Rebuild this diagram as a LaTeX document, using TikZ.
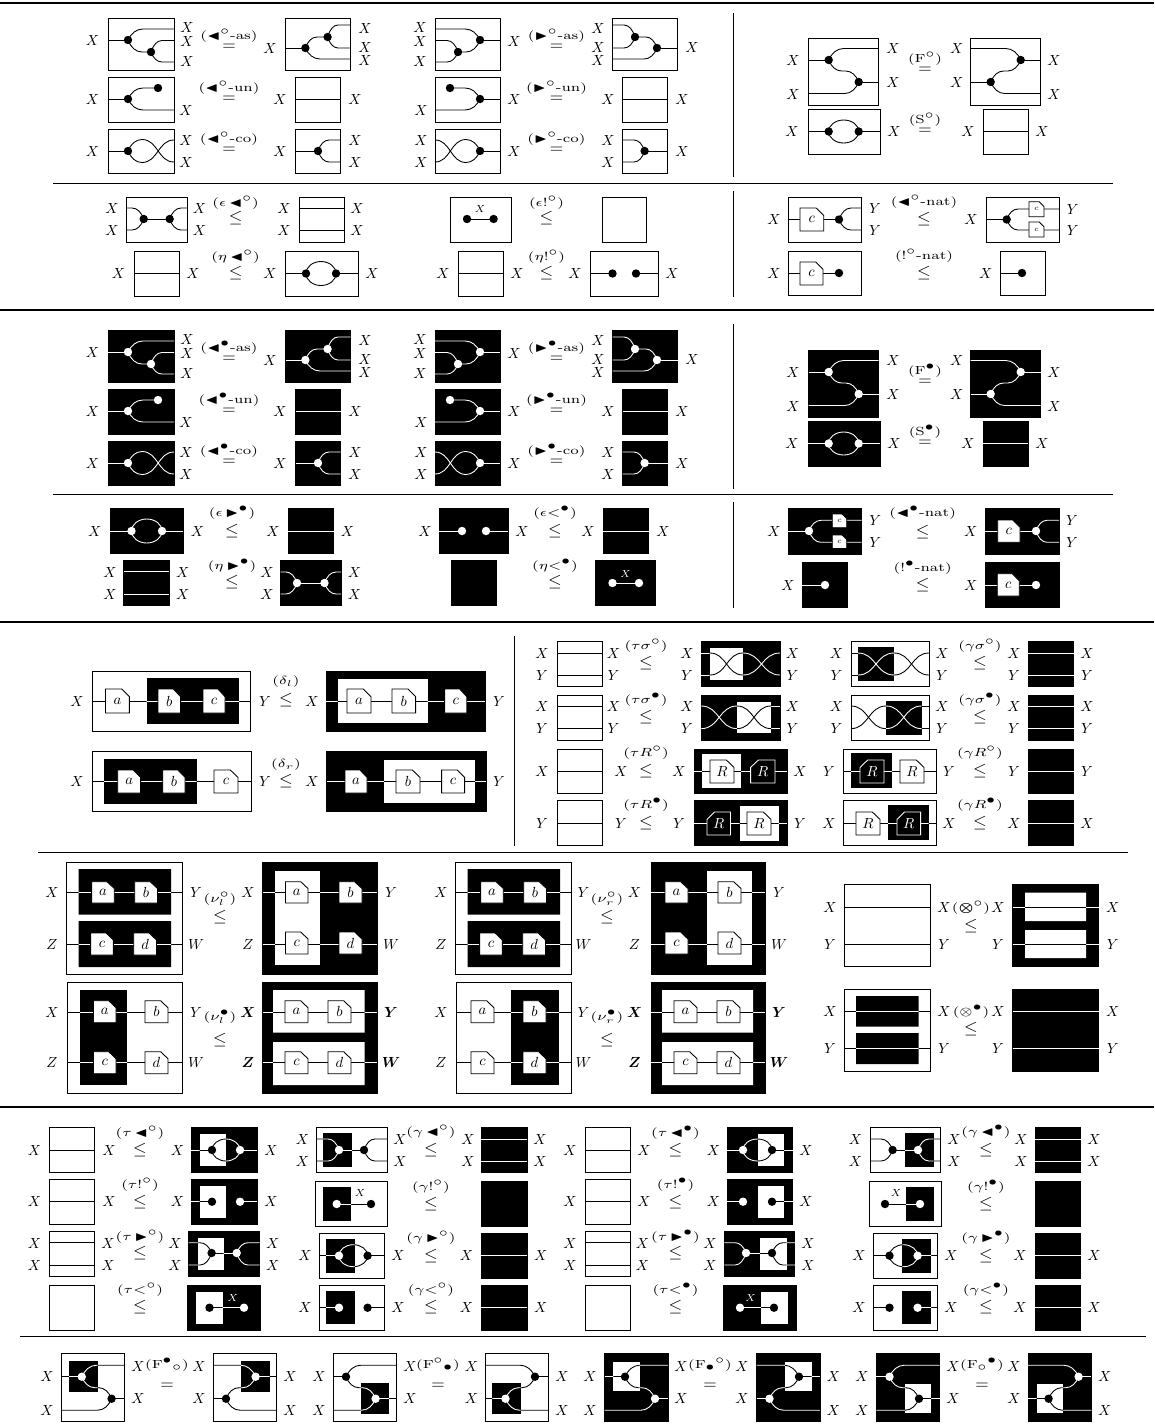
\documentclass[tikz,border=0pt]{standalone}
\usepackage{amsmath,amssymb}
\usepackage{graphicx}
\usepackage{tikz}
\usetikzlibrary{calc}
\colorlet{paper}{white}
\colorlet{ink}{black}
\tikzset{
  wire/.style={draw=ink,line width=0.6pt},
  panelbox/.style={draw=black,fill=paper,line width=0.6pt},
  tagwhite/.style={draw=black,fill=white,line width=0.6pt},
  tagblack/.style={draw=white,fill=black,line width=0.6pt},
  labelnode/.style={inner sep=0pt,text=black},
  thickrule/.style={draw=black,line width=1pt},
  thinrule/.style={draw=black,line width=0.6pt}
}
\newcount\labno
\newcommand{\wmk}{{\scriptstyle\circ}}
\newcommand{\bmk}{{\scriptstyle\bullet}}
\newcommand{\trl}{\mathord{\blacktriangleleft}}
\newcommand{\trr}{\mathord{\blacktriangleright}}
\newcommand{\lab}[3]{\global\advance\labno by 1 \node[labelnode] (lab\the\labno) at (#1,#2) {$#3$};}
\newcommand{\labs}[3]{\foreach \yy in {#2} {\lab{#1}{\yy}{#3}}}
\newcommand{\smlab}[3]{\global\advance\labno by 1 \node[labelnode,text=#3] (lab\the\labno) at (#1,#2) {$\scriptstyle X$};}
\newcommand{\opz}[5]{\global\advance\labno by 1
  \node[labelnode] (op\the\labno) at (#1,#2) {\scalebox{1.45}[1.15]{$\scriptstyle #5$}};
  \node[labelnode,font=\large] (rel\the\labno) at (#1,#3) {$#4$};}
\newcommand{\wireh}[3]{\draw[wire] (#1,#3) -- (#2,#3);}
\newcommand{\wirebr}[5]{\draw[wire] (#1,#2) .. controls ({#1+0.2*((#3)-(#1))},{#2+0.6*((#4)-(#2))}) and ({#3-0.45*((#3)-(#1))},#4) .. (#3,#4) -- (#5,#4);}
\newcommand{\wiresw}[4]{\draw[wire] (#1,#2) .. controls ({(#1+#3)/2},#2) and ({(#1+#3)/2},#4) .. (#3,#4);}
\newcommand{\wirelp}[6]{\draw[wire] (#1,#2) .. controls ({#1+0.2*((#3)-(#1))},{#2+0.6*((#4)-(#2))}) and ({#3-0.45*((#3)-(#1))},#4) .. (#3,#4) .. controls ({(#3+#5)/2},#4) and ({(#3+#5)/2},#6) .. (#5,#6);}
\newcommand{\wirelo}[4]{\draw[wire] ({(#1+#2)/2},#3) ellipse [x radius={(#2-#1)/2},y radius=#4];}
\newcommand{\spot}[2]{\fill[ink] (#1,#2) circle [radius=4.2];}
\newcommand{\tagw}[5]{\draw[tagwhite] (#1,#3) -- (#2-0.32*#2+0.32*#1,#3) -- (#2,#3+0.32*#4-0.32*#3) -- (#2,#4) -- (#1,#4) -- cycle;
  \node[labelnode,text=black] (tag\the\labno) at ({(#1+#2)/2},{(#3+#4)/2}) {$#5$};}
\newcommand{\tagb}[5]{\draw[tagblack] (#2,#3) -- (#1+0.32*#2-0.32*#1,#3) -- (#1,#3+0.32*#4-0.32*#3) -- (#1,#4) -- (#2,#4) -- cycle;
  \node[labelnode,text=white] (tag\the\labno) at ({(#1+#2)/2},{(#3+#4)/2}) {$#5$};}
\newcommand{\panel}[3]{\begin{scope}\colorlet{paper}{#1}\colorlet{ink}{-#1}\draw[panelbox] #2;#3\end{scope}}
\newcommand{\panelin}[4]{\begin{scope}\colorlet{paper}{#1}\colorlet{ink}{-#1}\draw[panelbox] #2;#4
  \colorlet{paper}{-#1}\colorlet{ink}{#1}\fill[paper] #3;
  \begin{scope}\clip #3;#4\end{scope}\end{scope}}
\newcommand{\frobl}[5]{\wireh{#1}{#3}{#5}\wireh{#4}{#2}{#5+22}
  \wirebr{#3}{#5}{#3+15}{#5-11.5}{#2}\wirebr{#3}{#5}{#3+13}{#5+11}{#3+17}
  \wirebr{#4}{#5+22}{#4-13}{#5+11}{#4-13}\wirebr{#4}{#5+22}{#4-14}{#5+33.5}{#1}
  \spot{#3}{#5}\spot{#4}{#5+22}}
\newcommand{\frobr}[5]{\wireh{#3}{#2}{#5}\wireh{#1}{#4}{#5+22}
  \wirebr{#3}{#5}{#3-15}{#5-11.5}{#1}\wirebr{#3}{#5}{#3-13}{#5+11}{#3-17}
  \wirebr{#4}{#5+22}{#4+13}{#5+11}{#4+13}\wirebr{#4}{#5+22}{#4+14}{#5+33.5}{#2}
  \spot{#3}{#5}\spot{#4}{#5+22}}
\newcommand{\secA}[2]{
\panel{#1}{(108,18) rectangle (174,70)}{\wireh{108}{128}{40}\wirebr{128}{40}{143}{29}{174}\wirebr{128}{40}{142}{52}{151}
  \wirebr{151}{52}{162}{40.5}{174}\wirebr{151}{52}{162}{62}{174}\spot{128}{40}\spot{151}{52}}
\panel{#1}{(285.5,18) rectangle (350.5,70)}{\wireh{285.5}{305.4}{48}\wirebr{305.4}{48}{317}{37}{327.6}\wirebr{305.4}{48}{320}{59}{350.5}
  \wirebr{327.6}{37}{338}{25}{350.5}\wirebr{327.6}{37}{338}{48}{350.5}\spot{305.4}{48}\spot{327.6}{37}}
\panel{#1}{(435,18) rectangle (500,70)}{\wireh{480}{500}{40}\wirebr{480}{40}{465}{29}{435}\wirebr{480}{40}{466}{52}{458}
  \wirebr{458}{52}{447}{40.5}{435}\wirebr{458}{52}{447}{62}{435}\spot{480}{40}\spot{458}{52}}
\panel{#1}{(612.5,18) rectangle (677.5,70)}{\wireh{657}{677.5}{48}\wirebr{657}{48}{646}{37}{635}\wirebr{657}{48}{644}{59}{612.5}
  \wirebr{635}{37}{624}{25}{612.5}\wirebr{635}{37}{624}{48}{612.5}\spot{657}{48}\spot{635}{37}}
\panel{#1}{(108,77) rectangle (174,122)}{\wireh{108}{128}{99}\wirebr{128}{99}{143}{88}{158}\wirebr{128}{99}{143}{110}{174}\spot{128}{99}\spot{158}{88}}
\panel{#1}{(295.5,77) rectangle (340.5,122)}{\wireh{295.5}{340.5}{99}}
\panel{#1}{(435,77) rectangle (500,122)}{\wireh{480}{500}{99}\wirebr{480}{99}{465}{88}{450}\wirebr{480}{99}{465}{110}{435}\spot{480}{99}\spot{450}{88}}
\panel{#1}{(622.5,77) rectangle (667.5,122)}{\wireh{622.5}{667.5}{99}}
\panel{#1}{(108,129) rectangle (174,173)}{\wireh{108}{128}{151}\wirelp{128}{151}{142}{139.5}{174}{162}\wirelp{128}{151}{142}{162.5}{174}{140}\spot{128}{151}}
\panel{#1}{(295.5,129) rectangle (340.5,173)}{\wireh{295.5}{318}{151}\wirebr{318}{151}{329}{140}{340.5}\wirebr{318}{151}{329}{162}{340.5}\spot{318}{151}}
\panel{#1}{(435,129) rectangle (500,173)}{\wireh{480}{500}{151}\wirelp{480}{151}{466}{139.5}{435}{162}\wirelp{480}{151}{466}{162.5}{435}{140}\spot{480}{151}}
\panel{#1}{(622.5,129) rectangle (667.5,173)}{\wireh{644.6}{667.5}{151}\wirebr{644.6}{151}{634}{140}{622.5}\wirebr{644.6}{151}{634}{162}{622.5}\spot{644.6}{151}}
\panel{#1}{(808.7,38) rectangle (878.7,105)}{\frobl{808.7}{878.7}{828.7}{858.7}{60}}
\panel{#1}{(970.7,38) rectangle (1040.7,105)}{\frobr{970.7}{1040.7}{1020.7}{990.7}{60}}
\panel{#1}{(808,109) rectangle (880,154)}{\wireh{808}{828.7}{131.5}\wireh{858.7}{880}{131.5}\wirelo{828.7}{858.7}{131.5}{11.5}\spot{828.7}{131.5}\spot{858.7}{131.5}}
\panel{#1}{(983,109) rectangle (1028,154)}{\wireh{983}{1028}{131.5}}
\lab{92.5}{40}{X}\labs{187}{27,41,61}{X}\lab{270}{48}{X}\labs{365}{28,47,60}{X}
\labs{420}{27,41,61}{X}\lab{514}{41}{X}\labs{598}{28,47,60}{X}\lab{692}{47}{X}
\lab{92.5}{99}{X}\lab{186}{110}{X}\lab{280}{99}{X}\lab{355}{99}{X}\lab{421}{110}{X}\lab{514}{99}{X}\lab{608}{99}{X}\lab{682}{99}{X}
\lab{92.5}{151}{X}\labs{186}{140,162}{X}\lab{280}{151}{X}\labs{355}{140,162}{X}\labs{421}{140,162}{X}\lab{514}{151}{X}\labs{608}{140,162}{X}\lab{682}{151}{X}
\labs{793}{60,94}{X}\labs{893}{48,82}{X}\labs{956.7}{48,82}{X}\labs{1054}{60,94}{X}
\lab{792}{131.5}{X}\lab{894}{131.5}{X}\lab{968}{131.5}{X}\lab{1042}{131.5}{X}
\opz{229}{36}{47}{=}{(\trl^{#2}\text{-as})}
\opz{556.5}{36}{47}{=}{(\trr^{#2}\text{-as})}
\opz{229}{88}{99}{=}{(\trl^{#2}\text{-un})}
\opz{556.5}{88}{99}{=}{(\trr^{#2}\text{-un})}
\opz{229}{139}{150}{=}{(\trl^{#2}\text{-co})}
\opz{556.5}{139}{150}{=}{(\trr^{#2}\text{-co})}
\opz{925}{59}{70}{=}{(\mathrm{F}^{#2})}
\opz{925}{120}{131}{=}{(\mathrm{S}^{#2})}
}
\begin{document}
\begin{tikzpicture}[x=0.683pt,y=-0.683pt]
\useasboundingbox (0,0) rectangle (1154,1426);
\draw[thickrule] (0,3) -- (1154,3);
\draw[thinrule] (53,183) -- (1113,183);
\draw[thickrule] (0,310) -- (1154,310);
\draw[thinrule] (53,494) -- (1113,494);
\draw[thickrule] (0,622) -- (1154,622);
\draw[thinrule] (38,852) -- (1128,852);
\draw[thickrule] (0,1107) -- (1154,1107);
\draw[thinrule] (20,1336.7) -- (1146,1336.7);
\foreach \ya/\yb in {13/177,191/297,324/489,502/608} {
  \draw[thinrule] (733.5,\ya) -- (733.5,\yb);
}
\draw[thinrule] (514.5,636) -- (514.5,846);
\secA{white}{\wmk}
\begin{scope}[shift={(0,312)}]
\secA{black}{\bmk}
\end{scope}
\panel{white}{(126,197) rectangle (187,242)}{\wireh{143.7}{169.7}{219}\wirebr{143.7}{219}{132}{208}{126}\wirebr{143.7}{219}{132}{230}{126}
  \wirebr{169.7}{219}{181}{208}{187}\wirebr{169.7}{219}{181}{230}{187}\spot{143.7}{219}\spot{169.7}{219}}
\panel{white}{(299,197) rectangle (344,242)}{\wireh{299}{344}{208}\wireh{299}{344}{230}}
\panel{white}{(450,197) rectangle (511,242)}{\wireh{467}{493.6}{219}\spot{467}{219}\spot{493.6}{219}}
\smlab{480}{209}{black}
\panel{white}{(602,197) rectangle (646.7,242)}{}
\panel{white}{(134,251) rectangle (179,296)}{\wireh{134}{179}{273.5}}
\panel{white}{(285.5,251) rectangle (358,296)}{\wireh{285.5}{306}{273.5}\wireh{336}{358}{273.5}\wirelo{306}{336}{273.5}{12}\spot{306}{273.5}\spot{336}{273.5}}
\panel{white}{(458,251) rectangle (503,296)}{\wireh{458}{503}{273.5}}
\panel{white}{(590,251) rectangle (658.4,296)}{\wireh{590}{612.5}{273.5}\wireh{636}{658.4}{273.5}\spot{612.5}{273.5}\spot{636}{273.5}}
\panel{white}{(788.7,197) rectangle (861.7,242)}{\wireh{788.7}{839}{219.5}\wirebr{839}{219.5}{851}{208}{861.7}\wirebr{839}{219.5}{851}{230}{861.7}\spot{839}{219.5}\tagw{800}{823.7}{208}{231}{c}}
\panel{white}{(986,197) rectangle (1059,242)}{\wireh{986}{1006.7}{219.5}\wirebr{1006.7}{219.5}{1018}{209}{1059}\wirebr{1006.7}{219.5}{1018}{230}{1059}\spot{1006.7}{219.5}
  \tagw{1029}{1044}{201.7}{216.7}{\scriptscriptstyle c}\tagw{1029}{1044}{222}{237}{\scriptscriptstyle c}}
\panel{white}{(788,251) rectangle (861,295)}{\wireh{788}{839}{273}\spot{839}{273}\tagw{800}{823}{262}{285}{c}}
\panel{white}{(1000,251) rectangle (1045,295)}{\wireh{1000}{1022}{273}\spot{1022}{273}}
\labs{112}{208,230}{X}\labs{199.6}{208,230}{X}\labs{284}{208,230}{X}\labs{357}{208,230}{X}
\lab{118.5}{273.5}{X}\lab{193}{273.5}{X}\lab{270}{273.5}{X}\lab{372}{273.5}{X}\lab{443}{273.5}{X}\lab{517}{273.5}{X}\lab{575}{273.5}{X}\lab{672}{273.5}{X}
\lab{774}{219}{X}\labs{875}{208,230}{Y}\lab{971}{219}{X}\labs{1072.7}{209,230}{Y}\lab{774}{273}{X}\lab{985.7}{273}{X}
\opz{235.6}{203}{218}{\leq}{(\epsilon\,\trl^{\wmk})}
\opz{546.5}{203}{218}{\leq}{(\epsilon!^{\wmk})}
\opz{235.6}{257}{273}{\leq}{(\eta\,\trl^{\wmk})}
\opz{546.5}{257}{273}{\leq}{(\eta!^{\wmk})}
\opz{924}{202}{219}{\leq}{(\trl^{\wmk}\text{-nat})}
\opz{924}{256}{273}{\leq}{(!^{\wmk}\text{-nat})}
\panel{black}{(110,508) rectangle (183,553.7)}{\wireh{110}{131.5}{531}\wireh{162}{183}{531}\wirelo{131.5}{162}{531}{12}\spot{131.5}{531}\spot{162}{531}}
\panel{black}{(288,508) rectangle (333.6,553.7)}{\wireh{288}{333.6}{531}}
\panel{black}{(439,508) rectangle (508.4,553.7)}{\wireh{439}{462}{531}\wireh{486}{508.4}{531}\spot{462}{531}\spot{486}{531}}
\panel{black}{(603,508) rectangle (648.5,553.7)}{\wireh{603}{648.5}{531}}
\panel{black}{(123.7,560) rectangle (169,605.7)}{\wireh{123.7}{169}{571.7}\wireh{123.7}{169}{594}}
\panel{black}{(280.7,560) rectangle (341,605.7)}{\wireh{297}{324.5}{583}\wirebr{297}{583}{286}{572}{280.7}\wirebr{297}{583}{286}{594}{280.7}
  \wirebr{324.5}{583}{336}{572}{341}\wirebr{324.5}{583}{336}{594}{341}\spot{297}{583}\spot{324.5}{583}}
\panel{black}{(451,560) rectangle (496.7,605.7)}{}
\panel{black}{(595.5,560) rectangle (655.8,605.7)}{\wireh{612.5}{639}{583}\spot{612.5}{583}\spot{639}{583}}
\smlab{625.5}{574}{white}
\panel{black}{(788,508) rectangle (861.7,554.3)}{\wireh{788}{809}{531}\wirebr{809}{531}{821}{520.3}{861.7}\wirebr{809}{531}{821}{542.3}{861.7}\spot{809}{531}
  \tagw{832.3}{846.7}{514}{527.7}{\scriptscriptstyle c}\tagw{832.3}{846.7}{535}{548.5}{\scriptscriptstyle c}}
\panel{black}{(985,508) rectangle (1059,554.3)}{\wireh{985}{1036}{531}\wirebr{1036}{531}{1047}{520.3}{1059}\wirebr{1036}{531}{1047}{542.3}{1059}\spot{1036}{531}\tagw{997.7}{1020}{520}{542.3}{c}}
\panel{black}{(802,562.3) rectangle (847.3,607.7)}{\wireh{802}{825}{585}\spot{825}{585}}
\panel{black}{(985,562.3) rectangle (1059,607.7)}{\wireh{985}{1036}{585}\spot{1036}{585}\tagw{997.3}{1019.3}{573.7}{596}{c}}
\lab{94.7}{531}{X}\lab{197.5}{531}{X}\lab{273}{531}{X}\lab{347.5}{531}{X}\lab{425}{531}{X}\lab{522}{531}{X}\lab{588}{531}{X}\lab{663}{531}{X}
\labs{110}{572,594}{X}\labs{182.7}{572,594}{X}\labs{267}{572,594}{X}\labs{354.5}{572,594}{X}
\lab{774}{531}{X}\labs{875.3}{520,542}{Y}\lab{970.7}{531}{X}\labs{1072}{520,542}{Y}\lab{788}{585}{X}\lab{970.7}{585}{X}
\opz{232}{513}{531}{\leq}{(\epsilon\,\trr^{\bmk})}
\opz{555}{513}{531}{\leq}{(\epsilon{<}^{\bmk})}
\opz{232}{565.7}{581.7}{\leq}{(\eta\,\trr^{\bmk})}
\opz{555}{565.7}{581.7}{\leq}{(\eta{<}^{\bmk})}
\opz{922.7}{513}{531.7}{\leq}{(\trl^{\bmk}\text{-nat})}
\opz{922.7}{567.7}{585}{\leq}{(!^{\bmk}\text{-nat})}
\panelin{white}{(92,671) rectangle (250.4,731)}{(146.7,678) rectangle (239,724)}{\wireh{92}{250.4}{701}\tagw{105.5}{129.4}{689}{713}{a}\tagw{158}{180.6}{689}{713}{b}\tagw{203}{225}{689}{713}{c}}
\panelin{black}{(326,671) rectangle (485.4,731)}{(337.5,679) rectangle (427.7,723)}{\wireh{326}{485.4}{701}\tagw{347}{371}{689}{713}{a}\tagw{392}{415.6}{689}{713}{b}\tagw{444.6}{466.8}{689}{713}{c}}
\panelin{white}{(92.5,751.7) rectangle (251,811)}{(104,759) rectangle (196.6,804)}{\wireh{92.5}{251}{781.7}\tagw{117.7}{140.6}{770}{793}{a}\tagw{162.8}{185}{770}{793}{b}\tagw{214}{238}{770}{793}{c}}
\panelin{black}{(326.7,751.7) rectangle (486,811)}{(384,760) rectangle (475,803)}{\wireh{326.7}{486}{781.7}\tagw{345}{367}{770}{793}{a}\tagw{396}{420}{770}{793}{b}\tagw{441.6}{464.6}{770}{793}{c}}
\lab{77}{701}{X}\lab{265}{701}{Y}\lab{312}{701}{X}\lab{499}{701}{Y}
\lab{77}{781.7}{X}\lab{265}{781.7}{Y}\lab{312}{781.7}{X}\lab{499}{781.7}{Y}
\opz{286}{682}{700}{\leq}{(\delta_l)}
\opz{286}{765}{781}{\leq}{(\delta_r)}
\panel{white}{(557,641.7) rectangle (602,686)}{\wireh{557}{602}{653}\wireh{557}{602}{675}}
\panelin{black}{(701.4,641.7) rectangle (780,686)}{(709.6,648) rectangle (743,680)}{\wireh{701.4}{710}{653}\wireh{701.4}{710}{675}\wiresw{710}{653}{743}{675}\wiresw{710}{675}{743}{653}\wiresw{743}{653}{780}{675}\wiresw{743}{675}{780}{653}}
\panelin{white}{(851,641.7) rectangle (929,686)}{(858,647) rectangle (894,681)}{\wireh{851}{858}{653}\wireh{851}{858}{675}\wiresw{858}{653}{894}{675}\wiresw{858}{675}{894}{653}\wiresw{894}{653}{929}{675}\wiresw{894}{675}{929}{653}}
\panel{black}{(1028,641.7) rectangle (1073.5,686)}{\wireh{1028}{1073.5}{653}\wireh{1028}{1073.5}{675}}
\panel{white}{(557,695) rectangle (602,740)}{\wireh{557}{602}{706}\wireh{557}{602}{728.6}}
\panelin{black}{(701.4,695) rectangle (780,740)}{(737,702) rectangle (771,733)}{\wiresw{701.4}{706}{737}{728.6}\wiresw{701.4}{728.6}{737}{706}\wiresw{737}{706}{771}{728.6}\wiresw{737}{728.6}{771}{706}\wireh{771}{780}{706}\wireh{771}{780}{728.6}}
\panelin{white}{(851,695) rectangle (929,740)}{(886,701) rectangle (921.5,735)}{\wiresw{851}{706}{886}{728.6}\wiresw{851}{728.6}{886}{706}\wiresw{886}{706}{921.5}{728.6}\wiresw{886}{728.6}{921.5}{706}\wireh{921.5}{929}{706}\wireh{921.5}{929}{728.6}}
\panel{black}{(1028,695) rectangle (1073.5,740)}{\wireh{1028}{1073.5}{706}\wireh{1028}{1073.5}{728.6}}
\panel{white}{(557,749) rectangle (602,793)}{\wireh{557}{602}{771}}
\panelin{black}{(694,749) rectangle (787,793)}{(702,754) rectangle (741,788)}{\wireh{694}{787}{771}\tagw{710}{734}{760}{783}{R}\tagb{750.6}{775}{760}{783}{R}}
\panelin{white}{(843.5,749) rectangle (936,793)}{(851,753) rectangle (892,788)}{\wireh{843.5}{936}{771}\tagb{860}{884}{760}{783}{R}\tagw{900}{924}{760}{783}{R}}
\panel{black}{(1028,749) rectangle (1073.5,793)}{\wireh{1028}{1073.5}{771}}
\panel{white}{(557,800.7) rectangle (602,845)}{\wireh{557}{602}{823}}
\panelin{black}{(694,800.7) rectangle (787,845)}{(739.6,806) rectangle (778.6,840.7)}{\wireh{694}{787}{823}\tagb{707}{730.5}{812}{835}{R}\tagw{747}{771}{812}{835}{R}}
\panelin{white}{(843.5,800.7) rectangle (936,845)}{(888,805) rectangle (928.5,840)}{\wireh{843.5}{936}{823}\tagw{856}{880}{812}{835}{R}\tagb{897}{920.6}{812}{835}{R}}
\panel{black}{(1028,800.7) rectangle (1073.5,845)}{\wireh{1028}{1073.5}{823}}
\lab{542}{653}{X}\lab{542}{675}{Y}\lab{613.5}{653}{X}\lab{613.5}{675}{Y}\lab{687}{653}{X}\lab{687}{675}{Y}\lab{792.5}{653}{X}\lab{792.5}{675}{Y}
\lab{836.5}{653}{X}\lab{836.5}{675}{Y}\lab{942}{653}{X}\lab{942}{675}{Y}\lab{1014}{653}{X}\lab{1014}{675}{Y}\lab{1087}{653}{X}\lab{1087}{675}{Y}
\lab{542}{706}{X}\lab{542}{728}{Y}\lab{613.5}{706}{X}\lab{613.5}{728}{Y}\lab{687}{706}{X}\lab{687}{728}{Y}\lab{792.5}{706}{X}\lab{792.5}{728}{Y}
\lab{836.5}{706}{X}\lab{836.5}{728}{Y}\lab{942}{706}{X}\lab{942}{728}{Y}\lab{1014}{706}{X}\lab{1014}{728}{Y}\lab{1087}{706}{X}\lab{1087}{728}{Y}
\lab{542}{771}{X}\lab{621}{771}{X}\lab{679}{771}{X}\lab{800}{771}{X}\lab{829}{771}{Y}\lab{949}{771}{Y}\lab{1014}{771}{Y}\lab{1087}{771}{Y}
\lab{542}{823}{Y}\lab{621}{823}{Y}\lab{679}{823}{Y}\lab{800}{823}{Y}\lab{829}{823}{X}\lab{949}{823}{X}\lab{1014}{823}{X}\lab{1087}{823}{X}
\opz{646}{646}{663}{\leq}{(\tau\sigma^{\wmk})}
\opz{980}{646}{663}{\leq}{(\gamma\sigma^{\wmk})}
\opz{646}{700}{717}{\leq}{(\tau\sigma^{\bmk})}
\opz{980}{700}{717}{\leq}{(\gamma\sigma^{\bmk})}
\opz{646}{753}{771}{\leq}{(\tau R^{\wmk})}
\opz{980}{753}{771}{\leq}{(\gamma R^{\wmk})}
\opz{646}{805}{823}{\leq}{(\tau R^{\bmk})}
\opz{980}{805}{823}{\leq}{(\gamma R^{\bmk})}
\panelin{white}{(66.8,862.7) rectangle (182,974)}{(78.5,869) rectangle (171,914.7) (78.5,921) rectangle (171,967)}{\wireh{66.8}{182}{892}\wireh{66.8}{182}{944}
  \tagw{91.6}{114.3}{881.7}{903}{a}\tagw{134.7}{157.5}{881.7}{903}{b}\tagw{90.6}{113.4}{933}{955}{c}\tagw{133.7}{156.5}{933}{955}{d}}
\panelin{black}{(262.7,862.7) rectangle (377,974)}{(275,871) rectangle (320,965)}{\wireh{262.7}{377}{892}\wireh{262.7}{377}{944}
  \tagw{285.5}{308}{881.7}{903}{a}\tagw{339}{362}{881.7}{903}{b}\tagw{285.5}{308}{932}{954}{c}\tagw{339}{362}{932}{954}{d}}
\panelin{white}{(455.6,862.7) rectangle (571,974)}{(467.5,869) rectangle (560,914.7) (467.5,921) rectangle (560,967)}{\wireh{455.6}{571}{892}\wireh{455.6}{571}{944}
  \tagw{480.6}{503.3}{881.7}{903}{a}\tagw{523.7}{546.5}{881.7}{903}{b}\tagw{479.6}{502.4}{933}{955}{c}\tagw{522.7}{545.5}{933}{955}{d}}
\panelin{black}{(651,862.7) rectangle (765,974)}{(707,871) rectangle (752,965)}{\wireh{651}{765}{892}\wireh{651}{765}{944}
  \tagw{665}{688}{881.7}{903}{a}\tagw{718}{741}{881.7}{903}{b}\tagw{665}{688}{932}{954}{c}\tagw{718}{741}{932}{954}{d}}
\panelin{white}{(67.8,982.7) rectangle (182.7,1093)}{(80,990) rectangle (127,1085)}{\wireh{67.8}{182.7}{1012}\wireh{67.8}{182.7}{1062.7}
  \tagw{93.5}{116}{1000.7}{1022.7}{a}\tagw{145}{168}{1000.7}{1022.7}{b}\tagw{93.5}{116}{1051.7}{1073.7}{c}\tagw{145}{168}{1051.7}{1073.7}{d}}
\panelin{black}{(262.7,982.7) rectangle (377,1093)}{(273,990) rectangle (364.5,1032.7) (273,1042) rectangle (364.5,1085)}{\wireh{262.7}{377}{1012}\wireh{262.7}{377}{1062.7}
  \tagw{285}{308}{1000.7}{1022.7}{a}\tagw{328}{351}{1000.7}{1022.7}{b}\tagw{285}{308}{1051.7}{1073.7}{c}\tagw{328}{351}{1051.7}{1073.7}{d}}
\panelin{white}{(456.6,982.7) rectangle (571,1093)}{(511,990) rectangle (559,1085)}{\wireh{456.6}{571}{1012}\wireh{456.6}{571}{1062.7}
  \tagw{471}{494}{1000.7}{1022.7}{a}\tagw{523}{546}{1000.7}{1022.7}{b}\tagw{471}{494}{1051.7}{1073.7}{c}\tagw{523}{546}{1051.7}{1073.7}{d}}
\panelin{black}{(651,982.7) rectangle (765,1093)}{(662,990) rectangle (753,1032.7) (662,1042) rectangle (753,1085)}{\wireh{651}{765}{1012}\wireh{651}{765}{1062.7}
  \tagw{674}{697}{1000.7}{1022.7}{a}\tagw{717}{740}{1000.7}{1022.7}{b}\tagw{674}{697}{1051.7}{1073.7}{c}\tagw{717}{740}{1051.7}{1073.7}{d}}
\panel{white}{(844.7,884) rectangle (930,966)}{\wireh{844.7}{930}{907}\wireh{844.7}{930}{944}}
\panelin{black}{(1012.7,884) rectangle (1098.7,966)}{(1025,892.7) rectangle (1086,921) (1025,930) rectangle (1086,958)}{\wireh{1012.7}{1098.7}{907}\wireh{1012.7}{1098.7}{944}}
\panelin{white}{(844.7,989) rectangle (930,1071)}{(856,996) rectangle (918.7,1026.7) (856,1033) rectangle (918.7,1064)}{\wireh{844.7}{930}{1011.7}\wireh{844.7}{930}{1048.7}}
\panel{black}{(1012.7,989) rectangle (1098.7,1071)}{\wireh{1012.7}{1098.7}{1011.7}\wireh{1012.7}{1098.7}{1048.7}}
\foreach \xa/\xb/\xc/\xd in {52/196/248/391,441/583.5/634.5/779} {
  \lab{\xa}{892}{X}\lab{\xa}{944}{Z}\lab{\xb}{892}{Y}\lab{\xb}{944}{W}\lab{\xc}{892}{X}\lab{\xc}{944}{Z}\lab{\xd}{892}{Y}\lab{\xd}{944}{W}
  \lab{\xa}{1012}{X}\lab{\xa}{1062.7}{Z}\lab{\xb}{1012}{Y}\lab{\xb}{1062.7}{W}
  \lab{\xc}{1012}{\boldsymbol{X}}\lab{\xc}{1062.7}{\boldsymbol{Z}}\lab{\xd}{1012}{\boldsymbol{Y}}\lab{\xd}{1062.7}{\boldsymbol{W}}
}
\lab{830}{907}{X}\lab{830}{944}{Y}\lab{944}{907}{X}\lab{944}{944}{Y}\lab{998}{907}{X}\lab{998}{944}{Y}\lab{1112.7}{907}{X}\lab{1112.7}{944}{Y}
\lab{830}{1011.7}{X}\lab{830}{1048.7}{Y}\lab{944}{1011.7}{X}\lab{944}{1048.7}{Y}\lab{998}{1011.7}{X}\lab{998}{1048.7}{Y}\lab{1112.7}{1011.7}{X}\lab{1112.7}{1048.7}{Y}
\opz{220}{899}{916.7}{\leq}{(\nu_l^{\wmk})}
\opz{607}{899}{916.7}{\leq}{(\nu_r^{\wmk})}
\opz{220}{1016.7}{1040}{\leq}{(\nu_l^{\bmk})}
\opz{607}{1016.7}{1040}{\leq}{(\nu_r^{\bmk})}
\opz{971}{908}{926}{\leq}{(\boldsymbol{\otimes}^{\wmk})}
\opz{971}{1011.7}{1029}{\leq}{(\otimes^{\bmk})}
\foreach \xa/\xb/\xc in {49.5/94.5/0,585/630/1} {
  \panel{white}{(\xa,1127.7) rectangle (\xb,1172)}{\wireh{\xa}{\xb}{1150}}
  \panel{white}{(\xa,1179.7) rectangle (\xb,1224.7)}{\wireh{\xa}{\xb}{1201.7}}
  \panel{white}{(\xa,1231.7) rectangle (\xb,1276)}{\wireh{\xa}{\xb}{1242.7}\wireh{\xa}{\xb}{1265}}
  \panel{white}{(\xa,1285) rectangle (\xb,1330)}{}
}
\panelin{black}{(191,1127.7) rectangle (257,1172)}{(199.6,1134) rectangle (226,1166)}{\wireh{191}{212}{1150}\wireh{240}{257}{1150}\wirelo{212}{240}{1150}{11}\spot{212}{1150}\spot{240}{1150}}
\panelin{white}{(316,1127.7) rectangle (387,1172)}{(323,1133) rectangle (352,1167)}{\wireh{339}{364}{1150}\wirebr{339}{1150}{328}{1139}{316}\wirebr{339}{1150}{328}{1161}{316}\wirebr{364}{1150}{375}{1139}{387}\wirebr{364}{1150}{375}{1161}{387}\spot{339}{1150}\spot{364}{1150}}
\panel{black}{(481,1127.7) rectangle (527,1172)}{\wireh{481}{527}{1139}\wireh{481}{527}{1161}}
\panelin{black}{(191,1179.7) rectangle (257,1224.7)}{(199.6,1186) rectangle (226,1217.7)}{\wireh{191}{212}{1201.7}\wireh{240}{257}{1201.7}\spot{212}{1201.7}\spot{240}{1201.7}}
\panelin{white}{(315.6,1181.7) rectangle (387.6,1226)}{(322.5,1187) rectangle (351,1220.7)}{\wireh{336.7}{371}{1204}\spot{336.7}{1204}\spot{371}{1204}}
\smlab{360}{1193}{black}
\panel{black}{(481,1181.7) rectangle (527,1226)}{}
\panelin{black}{(188.7,1231.7) rectangle (259.6,1276)}{(197.5,1237.7) rectangle (223.6,1269.7)}{\wireh{211.6}{236.7}{1253}\wirebr{211.6}{1253}{200}{1242.7}{188.7}\wirebr{211.6}{1253}{200}{1265}{188.7}\wirebr{236.7}{1253}{248}{1242.7}{259.6}\wirebr{236.7}{1253}{248}{1265}{259.6}\spot{211.6}{1253}\spot{236.7}{1253}}
\panelin{white}{(319,1233.7) rectangle (384,1278)}{(326,1239) rectangle (354.5,1272.7)}{\wireh{319}{339}{1255.7}\wireh{367.6}{384}{1255.7}\wirelo{339}{367.6}{1255.7}{11}\spot{339}{1255.7}\spot{367.6}{1255.7}}
\panel{black}{(481,1233.7) rectangle (527,1278)}{\wireh{481}{527}{1255.7}}
\panelin{black}{(187.6,1285) rectangle (260.7,1330)}{(196,1292) rectangle (222.5,1323.7)}{\wireh{209.5}{244}{1307.7}\spot{209.5}{1307.7}\spot{244}{1307.7}}
\smlab{232.7}{1297.7}{white}
\panelin{white}{(319,1285) rectangle (384,1330)}{(326,1291) rectangle (354.5,1324)}{\wireh{319}{339}{1307.7}\wireh{367.6}{384}{1307.7}\spot{339}{1307.7}\spot{367.6}{1307.7}}
\panel{black}{(481,1285) rectangle (527,1330)}{\wireh{481}{527}{1307.7}}
\panelin{black}{(727,1127.7) rectangle (792.6,1172)}{(757.7,1134) rectangle (784,1166)}{\wireh{727}{743}{1150}\wireh{772}{792.6}{1150}\wirelo{743}{772}{1150}{11}\spot{743}{1150}\spot{772}{1150}}
\panelin{white}{(870,1127.7) rectangle (940.7,1172)}{(905,1133) rectangle (933.5,1167)}{\wireh{892.6}{918}{1150}\wirebr{892.6}{1150}{881}{1139}{870}\wirebr{892.6}{1150}{881}{1161}{870}\wirebr{918}{1150}{929}{1139}{940.7}\wirebr{918}{1150}{929}{1161}{940.7}\spot{892.6}{1150}\spot{918}{1150}}
\panel{black}{(1035,1127.7) rectangle (1080.5,1172)}{\wireh{1035}{1080.5}{1139}\wireh{1035}{1080.5}{1161}}
\panelin{black}{(727,1179.7) rectangle (792.6,1224.7)}{(757.7,1186) rectangle (784,1217.7)}{\wireh{727}{743}{1201.7}\wireh{772}{792.6}{1201.7}\spot{743}{1201.7}\spot{772}{1201.7}}
\panelin{white}{(869.5,1181.7) rectangle (941.4,1226)}{(905.8,1187) rectangle (934,1220.7)}{\wireh{885}{920}{1204}\spot{885}{1204}\spot{920}{1204}}
\smlab{896}{1193}{black}
\panel{black}{(1035,1181.7) rectangle (1080.5,1226)}{}
\panelin{black}{(724.4,1231.7) rectangle (794.8,1276)}{(760,1237.7) rectangle (786.5,1269.7)}{\wireh{746}{772}{1253}\wirebr{746}{1253}{735}{1242.7}{724.4}\wirebr{746}{1253}{735}{1265}{724.4}\wirebr{772}{1253}{783}{1242.7}{794.8}\wirebr{772}{1253}{783}{1265}{794.8}\spot{746}{1253}\spot{772}{1253}}
\panelin{white}{(873,1233.7) rectangle (937.6,1278)}{(902.4,1239) rectangle (931,1272.7)}{\wireh{873}{889.5}{1255.7}\wireh{917.6}{937.6}{1255.7}\wirelo{889.5}{917.6}{1255.7}{11}\spot{889.5}{1255.7}\spot{917.6}{1255.7}}
\panel{black}{(1035,1233.7) rectangle (1080.5,1278)}{\wireh{1035}{1080.5}{1255.7}}
\panelin{black}{(723,1285) rectangle (796.4,1330)}{(761,1292) rectangle (787.6,1323.7)}{\wireh{740}{774}{1307.7}\spot{740}{1307.7}\spot{774}{1307.7}}
\smlab{750.5}{1297.7}{white}
\panelin{white}{(873,1285) rectangle (937.6,1330)}{(902.4,1291) rectangle (931,1324)}{\wireh{873}{889.5}{1307.7}\wireh{917.6}{937.6}{1307.7}\spot{889.5}{1307.7}\spot{917.6}{1307.7}}
\panel{black}{(1035,1285) rectangle (1080.5,1330)}{\wireh{1035}{1080.5}{1307.7}}
\lab{34.5}{1150}{X}\lab{109}{1150}{X}\lab{177.5}{1150}{X}\lab{271}{1150}{X}\labs{302.5}{1139,1161}{X}\labs{400}{1139,1161}{X}\labs{468}{1139,1161}{X}\labs{540}{1139,1161}{X}
\lab{34.5}{1201.7}{X}\lab{109}{1201.7}{X}\lab{177.5}{1201.7}{X}\lab{271}{1201.7}{X}
\labs{34.5}{1243,1265}{X}\labs{108}{1243,1265}{X}\labs{175}{1243,1265}{X}\labs{272.7}{1243,1265}{X}
\lab{305}{1255.7}{X}\lab{398}{1255.7}{X}\lab{466.5}{1255.7}{X}\lab{540.7}{1255.7}{X}
\lab{305}{1307.7}{X}\lab{398}{1307.7}{X}\lab{466.5}{1307.7}{X}\lab{540.7}{1307.7}{X}
\lab{570}{1150}{X}\lab{644}{1150}{X}\lab{713.4}{1150}{X}\lab{806}{1150}{X}\labs{855.5}{1139,1161}{X}\labs{954}{1139,1161}{X}\labs{1021}{1139,1161}{X}\labs{1094}{1139,1161}{X}
\lab{570}{1201.7}{X}\lab{644}{1201.7}{X}\lab{713.4}{1201.7}{X}\lab{806}{1201.7}{X}
\labs{570}{1243,1265}{X}\labs{642.6}{1243,1265}{X}\labs{710}{1243,1265}{X}\labs{808}{1243,1265}{X}
\lab{859}{1255.7}{X}\lab{951}{1255.7}{X}\lab{1020}{1255.7}{X}\lab{1094}{1255.7}{X}
\lab{859}{1307.7}{X}\lab{951}{1307.7}{X}\lab{1020}{1307.7}{X}\lab{1094}{1307.7}{X}
\opz{140}{1132.7}{1150}{\leq}{(\tau\,\trl^{\wmk})}
\opz{431}{1131.7}{1150}{\leq}{(\gamma\,\trl^{\wmk})}
\opz{675.5}{1132.7}{1150}{\leq}{(\tau\,\trl^{\bmk})}
\opz{986}{1131.7}{1150}{\leq}{(\gamma\,\trl^{\bmk})}
\opz{140}{1185}{1201.7}{\leq}{(\tau!^{\wmk})}
\opz{431}{1186.7}{1204}{\leq}{(\gamma!^{\wmk})}
\opz{675.5}{1185}{1201.7}{\leq}{(\tau!^{\bmk})}
\opz{986}{1186.7}{1204}{\leq}{(\gamma!^{\bmk})}
\opz{140}{1236.7}{1253}{\leq}{(\tau\,\trr^{\wmk})}
\opz{431}{1238}{1255.7}{\leq}{(\gamma\,\trr^{\wmk})}
\opz{675.5}{1236.7}{1253}{\leq}{(\tau\,\trr^{\bmk})}
\opz{986}{1238}{1255.7}{\leq}{(\gamma\,\trr^{\bmk})}
\opz{140}{1290}{1307}{\leq}{(\tau{<}^{\wmk})}
\opz{431}{1290}{1307}{\leq}{(\gamma{<}^{\wmk})}
\opz{675.5}{1290}{1307}{\leq}{(\tau{<}^{\bmk})}
\opz{986}{1290}{1307}{\leq}{(\gamma{<}^{\bmk})}
\panelin{white}{(61.8,1353.3) rectangle (124.4,1421)}{(69,1361) rectangle (97.5,1391.7)}{\frobl{61.8}{124.4}{81.8}{111.6}{1376.7}}
\panelin{white}{(213.8,1353.3) rectangle (276.4,1421)}{(241,1361) rectangle (269.5,1391.7)}{\frobr{213.8}{276.4}{255.6}{226}{1376.7}}
\panelin{white}{(333.5,1353.3) rectangle (396.4,1421)}{(360.7,1383) rectangle (389,1413.7)}{\frobl{333.5}{396.4}{346}{375.6}{1376.7}}
\panelin{white}{(485.5,1353.3) rectangle (548,1421)}{(492.4,1383) rectangle (520.7,1413.7)}{\frobr{485.5}{548}{535}{505.5}{1376.7}}
\panelin{black}{(604.7,1353.3) rectangle (668,1421)}{(613.4,1362.3) rectangle (639.5,1390.7)}{\frobl{604.7}{668}{625}{655}{1376.7}}
\panelin{black}{(756.6,1353.3) rectangle (820,1421)}{(785,1362.3) rectangle (811.5,1390.7)}{\frobr{756.6}{820}{799}{769.5}{1376.7}}
\panelin{black}{(876.3,1353.3) rectangle (939.5,1421)}{(905,1384) rectangle (931,1413)}{\frobl{876.3}{939.5}{889.5}{919}{1376.7}}
\panelin{black}{(1028,1353.3) rectangle (1091.4,1421)}{(1036.5,1384) rectangle (1063,1413)}{\frobr{1028}{1091.4}{1078.6}{1048.6}{1376.7}}
\foreach \xa/\xb/\xc/\xd in {47/138/199/290,319/410/471.6/562,590/681/742/833.5,862/953/1014/1104.7} {
  \labs{\xa}{1376,1410}{X}\labs{\xb}{1366,1398}{X}\labs{\xc}{1366,1398}{X}\labs{\xd}{1376,1410}{X}
}
\foreach \xa/\xb/\xc/\xd in {590/681/742/833.5,862/953/1014/1104.7} {
}
\opz{167}{1365}{1386}{=}{(\mathrm{F}^{\bmk}{}_{\wmk})}
\opz{438}{1365}{1386}{=}{(\mathrm{F}^{\wmk}{}_{\bmk})}
\opz{710}{1365}{1386}{=}{(\mathrm{F}_{\bmk}{}^{\wmk})}
\opz{982}{1365}{1386}{=}{(\mathrm{F}_{\wmk}{}^{\bmk})}
\end{tikzpicture}
\end{document}
